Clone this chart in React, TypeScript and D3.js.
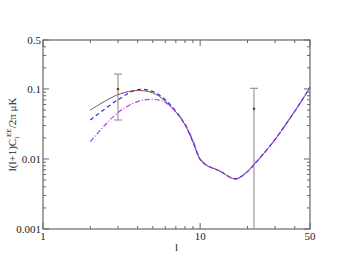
import React from "react";
import * as d3 from "d3";

const W = 349;
const H = 270;
const MARGIN = { top: 40, right: 39, bottom: 41, left: 43 };

// multipoles
const ells = [2, 3, 4, 5, 6, 7, 8, 9, 10, 11, 12, 13, 14, 16, 17, 18, 20, 22, 25, 30, 35, 40, 45, 50];

const solidValues = [0.05, 0.083, 0.095, 0.088, 0.067, 0.047, 0.031, 0.0175, 0.0098, 0.0081, 0.0074, 0.0069, 0.0063, 0.0053, 0.0052, 0.0055, 0.0066, 0.0083, 0.0115, 0.019, 0.031, 0.048, 0.072, 0.106];
const dashedValues = [0.036, 0.07, 0.098, 0.092, 0.07, 0.048, 0.031, 0.0175, 0.0099, 0.0081, 0.0074, 0.0069, 0.0063, 0.0053, 0.0052, 0.0055, 0.0066, 0.0083, 0.0115, 0.019, 0.031, 0.048, 0.072, 0.106];
const dashDotValues = [0.0177, 0.046, 0.066, 0.071, 0.064, 0.047, 0.032, 0.0185, 0.0101, 0.0082, 0.0074, 0.0069, 0.0063, 0.0053, 0.0052, 0.0055, 0.0066, 0.0083, 0.0115, 0.019, 0.031, 0.048, 0.072, 0.106];

// data points with error bars
const errEll = [3, 22];
const errMid = [0.1, 0.052];
const errLow = [0.036, 0.0004];
const errHigh = [0.163, 0.102];

const xTickLabels = [1, 10, 50];
const yTickLabels = [0.5, 0.1, 0.01, 0.001];

const App = () => {
  const iw = W - MARGIN.left - MARGIN.right;
  const ih = H - MARGIN.top - MARGIN.bottom;

  const x = d3.scaleLog().domain([1, 50]).range([0, iw]);
  const y = d3.scaleLog().domain([0.001, 0.5]).range([ih, 0]);

  const line = d3
    .line<number>()
    .x((_, i) => x(ells[i]))
    .y((d) => y(d))
    .curve(d3.curveCatmullRom.alpha(0.5));

  const xMinor: number[] = [];
  [1, 10].forEach((dec) => {
    for (let k = 2; k <= 9; k++) if (dec * k < 50) xMinor.push(dec * k);
  });
  const yMinor: number[] = [];
  [0.001, 0.01, 0.1].forEach((dec) => {
    for (let k = 2; k <= 9; k++) if (dec * k < 0.5) yMinor.push(dec * k);
  });

  const axisColor = "#666";
  const font = "'Liberation Serif', 'DejaVu Serif', serif";

  return (
    <svg width={W} height={H} style={{ position: "absolute", left: 0, top: 0 }}>
      <rect width={W} height={H} fill="#fff" />
      <defs>
        <clipPath id="plot">
          <rect x={0} y={0} width={iw} height={ih} />
        </clipPath>
      </defs>
      <g transform={`translate(${MARGIN.left},${MARGIN.top})`}>
        {/* x ticks, bottom and top */}
        {xTickLabels.concat(xMinor).map((t) => {
          const major = xTickLabels.includes(t);
          const len = major ? 6 : 3;
          return (
            <g key={"x" + t}>
              <line x1={x(t)} x2={x(t)} y1={ih} y2={ih - len} stroke={axisColor} />
              <line x1={x(t)} x2={x(t)} y1={0} y2={len} stroke={axisColor} />
            </g>
          );
        })}
        {yTickLabels.concat(yMinor).map((t) => {
          const major = yTickLabels.includes(t);
          const len = major ? 6 : 3;
          return (
            <g key={"y" + t}>
              <line x1={0} x2={len} y1={y(t)} y2={y(t)} stroke={axisColor} />
              <line x1={iw} x2={iw - len} y1={y(t)} y2={y(t)} stroke={axisColor} />
            </g>
          );
        })}
        <rect x={0} y={0} width={iw} height={ih} fill="none" stroke={axisColor} strokeWidth={1.2} />

        {xTickLabels.map((t) => (
          <text key={"xl" + t} x={x(t)} y={ih + 11} textAnchor="middle" fontFamily={font} fontSize={11} fill="#222">
            {t}
          </text>
        ))}
        {yTickLabels.map((t) => (
          <text key={"yl" + t} x={-2} y={y(t) + 4} textAnchor="end" fontFamily={font} fontSize={11} fill="#222">
            {t}
          </text>
        ))}

        <g clipPath="url(#plot)">
          {errEll.map((e, i) => (
            <g key={"err" + i} stroke="#999" strokeWidth={1.2}>
              <line x1={x(e)} x2={x(e)} y1={y(errLow[i])} y2={y(errHigh[i])} />
              <line x1={x(e) - 4} x2={x(e) + 4} y1={y(errHigh[i])} y2={y(errHigh[i])} />
              <line x1={x(e) - 4} x2={x(e) + 4} y1={y(errLow[i])} y2={y(errLow[i])} />
              <circle cx={x(e)} cy={y(errMid[i])} r={1.3} fill="#444" stroke="none" />
            </g>
          ))}
          <path d={line(solidValues) ?? ""} fill="none" stroke="#666" strokeWidth={1} />
          <path d={line(solidValues) ?? ""} fill="none" stroke="#e04040" strokeWidth={1} strokeDasharray="1 3" />
          <path d={line(dashedValues) ?? ""} fill="none" stroke="#2a2ae8" strokeWidth={1.2} strokeDasharray="4 3" />
          <path d={line(dashDotValues) ?? ""} fill="none" stroke="#b03de8" strokeWidth={1.2} strokeDasharray="5 2 1 2" />
        </g>

        <text x={iw / 2} y={ih + 22} textAnchor="middle" fontFamily={font} fontSize={11} fill="#222">
          l
        </text>
      </g>
      <text
        transform={`translate(16,${MARGIN.top + ih / 2}) rotate(-90)`}
        textAnchor="middle"
        fontFamily={font}
        fontSize={11}
        fill="#222"
      >
        l(l+1)C
        <tspan fontSize={7} dy={3}>l</tspan>
        <tspan fontSize={7} dy={-8}>EE</tspan>
        <tspan dy={5}>/2π μK</tspan>
      </text>
    </svg>
  );
};

export default App;
